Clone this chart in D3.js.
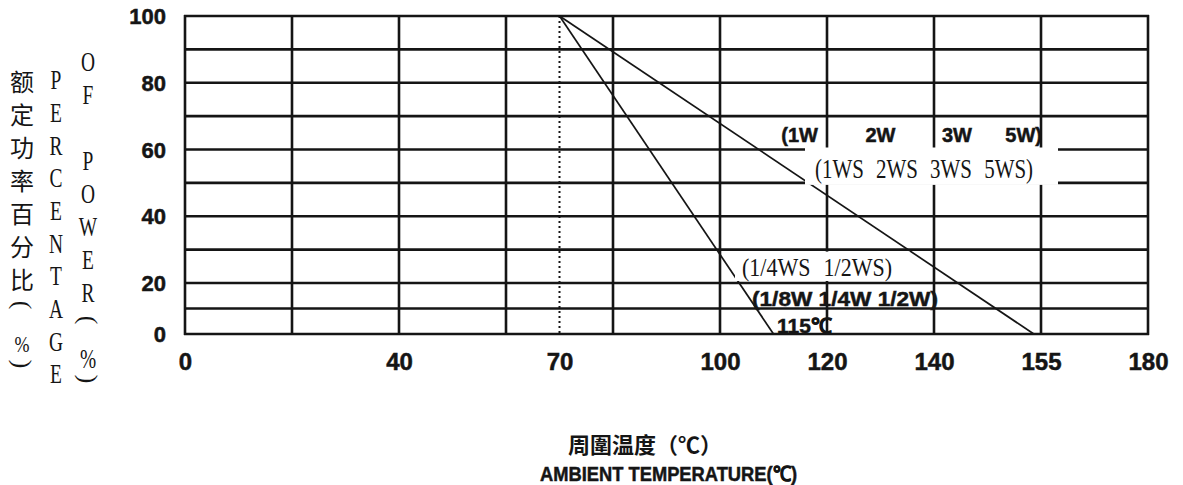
<!DOCTYPE html>
<html>
<head>
<meta charset="utf-8">
<script src="https://cdn.jsdelivr.net/npm/d3@7"></script>
<style>
html, body { margin: 0; padding: 0; background: #fff; }
svg { display: block; }
</style>
</head>
<body>
<div id="chart"></div>
<script>
// values
var gridTemps = [0, 20, 40, 60, 80, 100, 120, 140, 155, 180];
var tickTemps = [0, 40, 70, 100, 120, 140, 155, 180];
var gridPcts = [0, 10, 20, 30, 40, 50, 60, 70, 80, 90, 100];
var tickPcts = [0, 20, 40, 60, 80, 100];
var ratedTemp = 70;

// derating curves (ambient temp, % of rated power)
var curveW_temps = [70, 154];
var curveW_pcts = [100, 0];
var curveSmall_temps = [70, 110];
var curveSmall_pcts = [100, 0];

var labelTopRow = ["(1W", "2W", "3W", "5W)"];
var labelWS = "(1WS 2WS 3WS 5WS)";
var labelSmallWS = "(1/4WS 1/2WS)";
var labelSmallW = "(1/8W 1/4W 1/2W)";
var labelEnd = "115℃";

var yTitleCn = ["额", "定", "功", "率", "百", "分", "比", "（", "%", "）"];
var yTitleEn1 = ["P", "E", "R", "C", "E", "N", "T", "A", "G", "E"];
var yTitleEn2 = ["O", "F", "", "P", "O", "W", "E", "R", "（", "%", "）"];
var xTitleCn = "周圍温度（℃）";
var xTitleEn = "AMBIENT TEMPERATURE(℃)";

function renderDerating(render_id) {

    var width = 1183,
        height = 485;

    var svg = d3.select("#" + render_id)
        .append("svg")
        .attr("width", width)
        .attr("height", height);

    var left = 185, right = 1148, top = 16, bottom = 334;
    var ink = "#151515";
    var sans = "'Liberation Sans', Arial, sans-serif";
    var serif = "'Liberation Serif', 'Times New Roman', serif";
    var cjk = "'Noto Sans CJK SC', sans-serif";

    // the printed grid is evenly spaced even though the labels are not
    var xSlot = d3.scalePoint().domain(gridTemps).range([left, right]);
    var x = d3.scaleLinear()
        .domain(gridTemps)
        .range(gridTemps.map(function (t) { return xSlot(t); }));
    var y = d3.scaleLinear().domain([0, 20, 100]).range([bottom, 283, top]);

    // heavy bold look of the print
    function heavy(sel, size) {
        sel.style("font-family", sans)
            .style("font-weight", "bold")
            .style("font-size", size)
            .attr("stroke", ink)
            .attr("stroke-width", 0.5);
    }

    // grid
    var grid = svg.append("g");
    grid.selectAll(".hline")
        .data(gridPcts)
        .enter().append("line")
        .attr("class", "hline")
        .attr("x1", x(0) - 1).attr("x2", x(180) + 1)
        .attr("y1", function (d) { return y(d); })
        .attr("y2", function (d) { return y(d); })
        .attr("stroke", ink)
        .attr("stroke-width", 2.6);

    grid.selectAll(".vline")
        .data(gridTemps)
        .enter().append("line")
        .attr("class", "vline")
        .attr("x1", function (d) { return x(d); })
        .attr("x2", function (d) { return x(d); })
        .attr("y1", y(100) - 1).attr("y2", y(0) + 1)
        .attr("stroke", ink)
        .attr("stroke-width", 2.6);

    grid.append("line")
        .attr("x1", x(ratedTemp)).attr("x2", x(ratedTemp))
        .attr("y1", y(100)).attr("y2", y(0))
        .attr("stroke", ink)
        .attr("stroke-width", 2)
        .attr("stroke-dasharray", "2,3");

    // curves
    var line = d3.line()
        .x(function (d) { return x(d[0]); })
        .y(function (d) { return y(d[1]); });

    var curves = [
        d3.zip(curveW_temps, curveW_pcts),
        d3.zip(curveSmall_temps, curveSmall_pcts)
    ];
    svg.append("g").selectAll("path")
        .data(curves)
        .enter().append("path")
        .attr("d", line)
        .attr("fill", "none")
        .attr("stroke", ink)
        .attr("stroke-width", 1.7);

    // axes (labels only, grid above does the lines)
    var xAxis = svg.append("g")
        .attr("transform", "translate(0," + bottom + ")")
        .call(d3.axisBottom(x).tickValues(tickTemps).tickSize(0));
    xAxis.select(".domain").remove();
    xAxis.selectAll("text")
        .attr("y", 28).attr("dy", "0.35em")
        .attr("fill", ink)
        .call(heavy, "24px");

    var yAxis = svg.append("g")
        .attr("transform", "translate(" + left + ",0)")
        .call(d3.axisLeft(y).tickValues(tickPcts).tickSize(0).tickPadding(19));
    yAxis.select(".domain").remove();
    yAxis.selectAll("text")
        .attr("dy", "0.35em")
        .attr("fill", ink)
        .call(heavy, "22px");

    // curve annotations
    var notes = svg.append("g")
        .attr("fill", ink)
        .style("dominant-baseline", "central");

    var topRowX = [x(120) - 9, x(130), x(140) + 8, x(155) + 1];
    var topRowAnchor = ["end", "middle", "start", "end"];
    notes.selectAll(".toprow")
        .data(labelTopRow)
        .enter().append("text")
        .attr("x", function (d, i) { return topRowX[i]; })
        .attr("y", 135)
        .attr("text-anchor", function (d, i) { return topRowAnchor[i]; })
        .call(heavy, "20px")
        .text(function (d) { return d; });

    // white patches behind the serif labels, as in the print
    notes.append("rect")
        .attr("x", 805).attr("y", y(60) - 2)
        .attr("width", 253).attr("height", y(50) - y(60) + 4)
        .attr("fill", "#fff");
    notes.append("text")
        .attr("x", 815).attr("y", 169)
        .attr("textLength", 218)
        .attr("lengthAdjust", "spacingAndGlyphs")
        .style("font-family", serif)
        .style("font-size", "27px")
        .style("word-spacing", "9px")
        .text(labelWS);

    notes.append("rect")
        .attr("x", 735).attr("y", y(30) + 2)
        .attr("width", 175).attr("height", y(20) - y(30) - 4)
        .attr("fill", "#fff");
    notes.append("text")
        .attr("x", 742).attr("y", 267)
        .attr("textLength", 150)
        .attr("lengthAdjust", "spacingAndGlyphs")
        .style("font-family", serif)
        .style("font-size", "26px")
        .style("word-spacing", "9px")
        .text(labelSmallWS);

    notes.append("text")
        .attr("x", 752).attr("y", 298)
        .attr("textLength", 186)
        .attr("lengthAdjust", "spacingAndGlyphs")
        .call(heavy, "21px")
        .text(labelSmallW);

    notes.append("text")
        .attr("x", 777).attr("y", 325)
        .call(heavy, "21px")
        .text(labelEnd);

    // vertical y-axis titles, one glyph per slot; brackets turned upright
    var titles = svg.append("g")
        .attr("fill", ink)
        .style("dominant-baseline", "central")
        .attr("text-anchor", "middle");

    function isBracket(d) { return d === "（" || d === "）"; }

    function glyphTransform(d, cx, cy, sx) {
        if (d === "（") return "translate(" + cx + "," + (cy - 6) + ") rotate(90)";
        if (d === "）") return "translate(" + cx + "," + (cy - 13) + ") rotate(90)";
        return "translate(" + cx + "," + cy + ") scale(" + sx + ",1)";
    }

    titles.selectAll(".cn")
        .data(yTitleCn)
        .enter().append("text")
        .attr("transform", function (d, i) { return glyphTransform(d, 22, 80 + i * 33, d === "%" ? 0.75 : 1); })
        .style("font-family", function (d) { return (d === "%" || isBracket(d)) ? serif : cjk; })
        .style("font-size", function (d) { return isBracket(d) ? "26px" : "24px"; })
        .text(function (d) { return isBracket(d) ? (d === "（" ? "(" : ")") : d; });

    function serifColumn(chars, cx, y0, step) {
        titles.selectAll(null)
            .data(chars)
            .enter().append("text")
            .attr("transform", function (d, i) { return glyphTransform(d, cx, y0 + i * step, 0.72); })
            .style("font-family", serif)
            .style("font-size", function (d) { return isBracket(d) ? "26px" : "27px"; })
            .text(function (d) { return isBracket(d) ? (d === "（" ? "(" : ")") : d; });
    }
    serifColumn(yTitleEn1, 56, 80, 32.7);
    serifColumn(yTitleEn2, 88, 62, 33);

    // x-axis titles
    svg.append("text")
        .attr("x", 568).attr("y", 443)
        .attr("fill", ink)
        .style("dominant-baseline", "central")
        .style("font-family", cjk)
        .style("font-weight", "bold")
        .style("font-size", "22px")
        .text(xTitleCn);

    svg.append("text")
        .attr("x", 540).attr("y", 473)
        .attr("fill", ink)
        .attr("textLength", 257)
        .attr("lengthAdjust", "spacingAndGlyphs")
        .style("dominant-baseline", "central")
        .call(heavy, "21px")
        .text(xTitleEn);
}

renderDerating("chart");
</script>
</body>
</html>
